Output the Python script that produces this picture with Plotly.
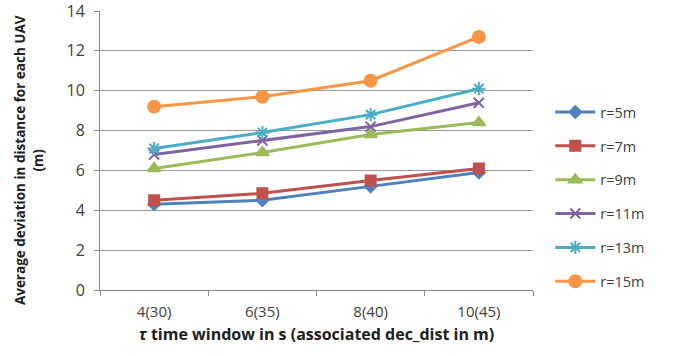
import plotly.graph_objects as go

# Time window τ (s) with associated dec_dist (m)
categories = ["4(30)", "6(35)", "8(40)", "10(45)"]

r5 = [4.3, 4.5, 5.2, 5.9]
r7 = [4.5, 4.85, 5.5, 6.1]
r9 = [6.1, 6.9, 7.8, 8.4]
r11 = [6.8, 7.5, 8.2, 9.4]
r13 = [7.1, 7.9, 8.8, 10.1]
r15 = [9.2, 9.7, 10.5, 12.7]

series = [
    ("r=5m", r5, "#4F81BD", "diamond", 9),
    ("r=7m", r7, "#C0504D", "square", 10),
    ("r=9m", r9, "#9BBB59", "triangle-up", 11),
    ("r=11m", r11, "#8064A2", "x-thin", 10),
    ("r=13m", r13, "#4BACC6", "asterisk", 11),
    ("r=15m", r15, "#F79646", "circle", 12),
]

fig = go.Figure()
for name, vals, color, sym, size in series:
    fig.add_trace(go.Scatter(
        x=categories, y=vals, name=name, mode="lines+markers",
        legendgroup=name,
        line=dict(color=color, width=3),
        marker=dict(symbol=sym, size=size, color=color,
                    line=dict(color=color, width=2)),
    ))

font_family = "Open Sans, Noto Sans, sans-serif"

fig.update_layout(
    width=688, height=356,
    margin=dict(l=100, r=155, t=11, b=66),
    paper_bgcolor="white", plot_bgcolor="white",
    font=dict(family=font_family, color="#404040"),
    showlegend=True,
    legend=dict(
        x=1.04, xanchor="left", xref="paper",
        y=0.333, yanchor="middle",
        font=dict(size=14.5, color="#404040"),
        tracegroupgap=12,
        itemwidth=40,
        bgcolor="rgba(0,0,0,0)",
    ),
    xaxis=dict(
        type="category", range=[-0.5, 3.5], automargin=False,
        tickson="boundaries", ticks="outside", ticklen=5,
        tickcolor="#868686", ticklabelstandoff=8,
        showline=True, linecolor="#868686", linewidth=1,
        showgrid=False, zeroline=False,
        tickfont=dict(size=15, color="#404040"),
        title=dict(
            text="<i>τ</i> time window in s (associated dec_dist in m)",
            font=dict(size=16, color="#202020", weight="bold"),
            standoff=8,
        ),
    ),
    yaxis=dict(
        range=[0, 14], dtick=2, ticks="outside", ticklen=5,
        tickcolor="#868686", automargin=False, ticklabelstandoff=6,
        ticklabeloverflow="allow",
        showline=True, linecolor="#868686", linewidth=1,
        showgrid=True, gridcolor="#9a9a9a", gridwidth=1,
        zeroline=False,
        tickfont=dict(size=16, color="#404040"),
    ),
    annotations=[dict(
        text="Average deviation in distance for each UAV<br>(m)",
        xref="paper", yref="paper", x=-0.165, y=0.464,
        xanchor="center", yanchor="middle", textangle=-90,
        showarrow=False,
        font=dict(size=13.5, color="#202020", weight="bold"),
    )],
)

fig.write_html("out.html")
